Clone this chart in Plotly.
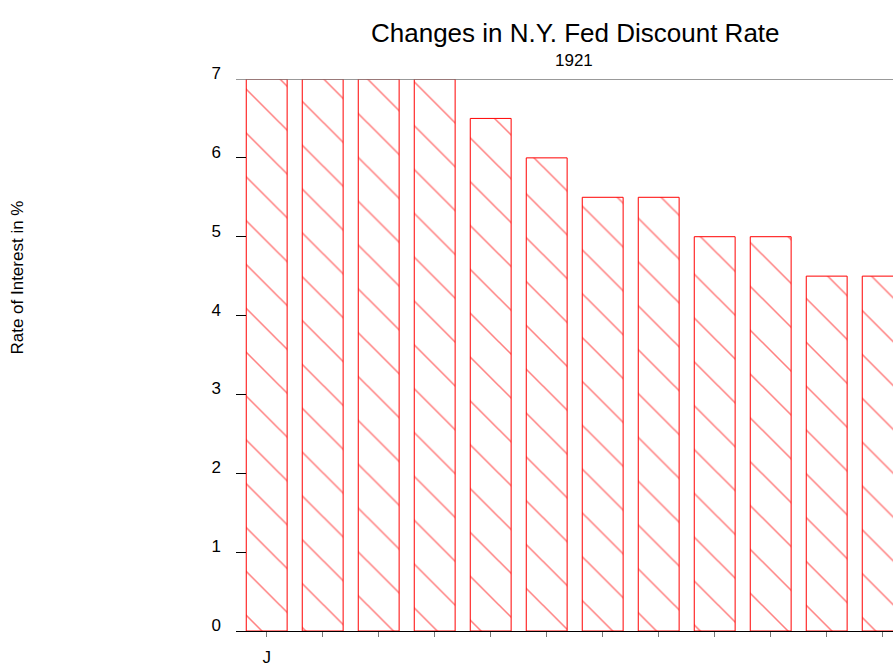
import plotly.graph_objects as go

months = ["J", "F", "M", "A", "M", "J", "J", "A", "S", "O", "N", "D"]
rates = [7, 7, 7, 7, 6.5, 6, 5.5, 5.5, 5, 5, 4.5, 4.5]
tick_labels = ["J", "", "", "", "", "", "", "", "", "", "", ""]
positions = list(range(len(months)))

W, H = 893, 667
L, R, T, B = 236, 0, 79, 32
pw, ph = W - L - R, H - T - B

def px_x(p):
    return (p - L) / pw

def px_y(p):
    return (H - B - p) / ph

fig = go.Figure()
fig.add_trace(go.Bar(
    x=positions, y=rates, width=0.73,
    marker=dict(
        color="white",
        line=dict(color="#ff0000", width=1),
        pattern=dict(shape="\\", size=31, solidity=0.05, fgcolor="#ff0000", bgcolor="white"),
    ),
    hoverinfo="skip",
))

fig.update_layout(
    width=W, height=H,
    margin=dict(l=L, r=R, t=T, b=B),
    paper_bgcolor="white", plot_bgcolor="white",
    showlegend=False,
    font=dict(family="Liberation Sans, Arial, sans-serif", color="black", size=17),
    xaxis=dict(
        range=[-0.548, 11.184], tickvals=positions, ticktext=tick_labels,
        showgrid=False, zeroline=False, showline=True, linecolor="black", linewidth=1,
        ticks="outside", ticklen=5, tickcolor="#777777", tickfont=dict(size=17),
        ticklabelstandoff=6,
    ),
    yaxis=dict(
        range=[0, 7], tickvals=[0, 1, 2, 3, 4, 5, 6, 7],
        showgrid=False, zeroline=False, showline=False,
        ticks="inside", ticklen=10, tickcolor="black", tickfont=dict(size=17),
        ticklabelstandoff=14, ticklabelshift=-6,
    ),
    shapes=[dict(type="line", xref="paper", yref="y", x0=0, x1=1, y0=7, y1=7,
                 line=dict(color="#777777", width=1.5))],
    annotations=[
        dict(text="Changes in N.Y. Fed Discount Rate", xref="paper", yref="paper",
             x=px_x(575), y=px_y(33), xanchor="center", yanchor="middle",
             showarrow=False, font=dict(size=26)),
        dict(text="1921", xref="paper", yref="paper",
             x=px_x(574), y=px_y(60), xanchor="center", yanchor="middle",
             showarrow=False, font=dict(size=17)),
        dict(text="Rate of Interest in %", xref="paper", yref="paper",
             x=px_x(18), y=px_y(279), xanchor="center", yanchor="middle",
             textangle=-90, showarrow=False, font=dict(size=17)),
    ],
)

fig.write_html("out.html", config={"displayModeBar": False},
               post_script="document.body.style.margin='0';document.body.style.overflow='hidden';")
